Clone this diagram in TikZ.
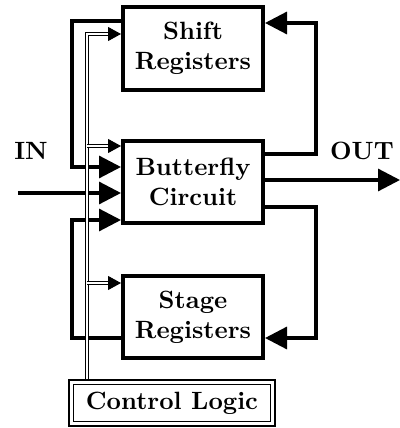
\documentclass[tikz,border=0pt]{standalone}
\usetikzlibrary{positioning, arrows.meta}

\begin{document}
\begin{tikzpicture}
    [
        on grid,
        node distance=53.4pt and 53.4pt,
        font=\bfseries,
        block/.style={draw, rectangle, line width=1.6pt, minimum height=33pt, minimum width=56pt, align=center, inner sep=0pt},
        ctrlblock/.style={draw, rectangle, double, line width=0.6pt, double distance=1.2pt, outer sep=1.2pt, minimum height=16.6pt, minimum width=80.6pt},
        data/.style={line width=1.3pt, -{Triangle[length=8.8pt, width=8.8pt]}},
        ctrl/.style={double, line width=0.4pt, double distance=0.6pt, -{Triangle[length=5.2pt, width=5.6pt]}}
    ]
        \useasboundingbox (-77.2pt,72.8pt) rectangle (82.8pt,-98.4pt);
        % =========================================================================
        % NODES
        % =========================================================================
        % --- Column ---
        \node [block] (butterfly) at (0,0) {Butterfly\\Circuit};
        \node [block, above=of butterfly] (shift) {Shift\\Registers};
        \node [block, below=54pt of butterfly] (stage) {Stage\\Registers};
        \node [ctrlblock, below left=34.4pt and 8.4pt of stage] (control) {Control Logic};
        % --- In / Out ---
        \coordinate (in) at (-70pt,-4.4pt);
        \coordinate (out) at (82.8pt,0.8pt);
        \node (inlabel) at ([xshift=5.2pt, yshift=16.8pt]in) {IN};
        \node (outlabel) at ([xshift=-15.2pt, yshift=11.6pt]out) {OUT};
        % --- Loops ---
        \coordinate (loopL) at (-48.4pt,0);
        \coordinate (loopR) at (49.2pt,0);
        \coordinate (bus) at ([xshift=-34pt]control.north);
        % --- Ports ---
        \coordinate (bf-c) at ([yshift=14.4pt]butterfly.west);
        \coordinate (bf-sh) at ([yshift=6pt]butterfly.west);
        \coordinate (bf-in) at ([yshift=-4.4pt]butterfly.west);
        \coordinate (bf-st) at ([yshift=-15.2pt]butterfly.west);
        \coordinate (bf-osh) at ([yshift=11.2pt]butterfly.east);
        \coordinate (bf-out) at ([yshift=0.8pt]butterfly.east);
        \coordinate (bf-ost) at ([yshift=-10pt]butterfly.east);
        \coordinate (sh-c) at ([yshift=5.8pt]shift.west);
        \coordinate (sh-e) at ([yshift=10.2pt]shift.east);
        \coordinate (st-c) at ([yshift=13.6pt]stage.west);
        \coordinate (st-e) at ([yshift=-8.4pt]stage.east);

        % =========================================================================
        % PATHS
        % =========================================================================
        % --- DATA ---
        \draw [data] (in) -- (bf-in);
        \draw [data] (bf-out) -- (out);
        %  Left loops
        \draw [data] ([yshift=11pt]shift.west) -| (loopL |- bf-sh) -- (bf-sh);
        \draw [data] ([yshift=-8.4pt]stage.west) -| (loopL |- bf-st) -- (bf-st);
        %  Right loops
        \draw [data] (bf-osh) -| (loopR |- sh-e) -- (sh-e);
        \draw [data] (bf-ost) -| (loopR |- st-e) -- (st-e);
        % --- CONTROL ---
        \draw [ctrl] (bus) |- (sh-c);
        \draw [ctrl] (bus |- bf-c) -- (bf-c);
        \draw [ctrl] (bus |- st-c) -- (st-c);

    \end{tikzpicture}
\end{document}
